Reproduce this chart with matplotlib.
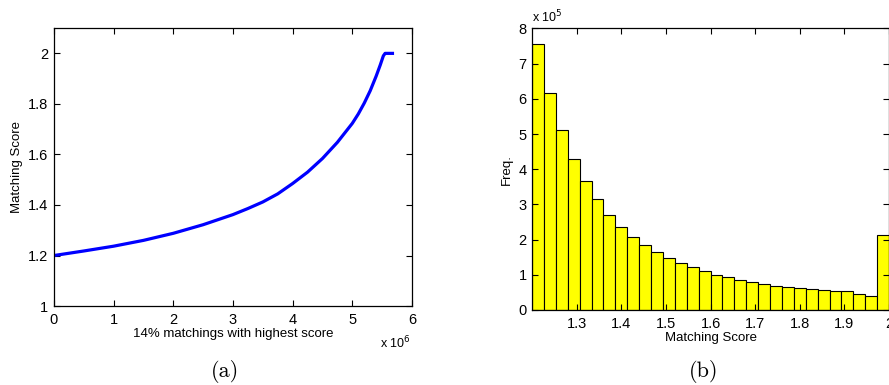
import numpy as np
import matplotlib
matplotlib.use("Agg")
import matplotlib.pyplot as plt

plt.rcParams['font.family'] = ['Liberation Sans', 'DejaVu Sans']

# (a) sorted matching scores of the top 14% matchings (x in units of 1e6)
curve_x = [0, 0.5, 1, 1.5, 2, 2.5, 3, 3.25, 3.5, 3.75, 4, 4.25, 4.5, 4.75, 5,
           5.1, 5.2, 5.3, 5.4, 5.47, 5.52, 5.55, 5.7]
curve_y = [1.200, 1.218, 1.237, 1.260, 1.288, 1.322, 1.362, 1.386, 1.412, 1.444,
           1.485, 1.530, 1.584, 1.648, 1.723, 1.760, 1.803, 1.852, 1.910, 1.955,
           1.990, 2.000, 2.000]

# (b) histogram of matching score, 30 bins between 1.2 and 2.0 (freq in units of 1e5)
bin_edges = np.linspace(1.2, 2.0, 31)
freq = [7.57, 6.16, 5.11, 4.29, 3.66, 3.14, 2.71, 2.37, 2.06, 1.84,
        1.64, 1.48, 1.33, 1.21, 1.11, 1.00, 0.94, 0.85, 0.80, 0.74,
        0.69, 0.65, 0.62, 0.59, 0.56, 0.53, 0.53, 0.45, 0.39, 2.12]

fig = plt.figure(figsize=(8.89, 3.85), dpi=100)


def matlab_style(ax):
    ax.tick_params(direction='in', top=True, right=True, length=4, width=0.8,
                   labelsize=10.5, pad=4)
    for s in ax.spines.values():
        s.set_linewidth(0.9)


# ---------------- (a)
ax1 = fig.add_axes([0.0607, 0.205, 0.4027, 0.722])
ax1.plot(curve_x, curve_y, color='#0000ff', lw=2.3, solid_capstyle='butt')
ax1.set_xlim(0, 6)
ax1.set_ylim(1, 2.1)
ax1.set_xticks([0, 1, 2, 3, 4, 5, 6])
ax1.set_yticks([1, 1.2, 1.4, 1.6, 1.8, 2])
ax1.set_yticklabels(['1', '1.2', '1.4', '1.6', '1.8', '2'])
matlab_style(ax1)
ax1.tick_params(axis='x', pad=5)
ax1.set_xlabel('14% matchings with highest score', fontsize=9.5, labelpad=1)
ax1.set_ylabel('Matching Score', fontsize=9.5, labelpad=4)
fig.text(0.428, 0.108, r'x 10$^{6}$', fontsize=9, ha='left', va='center')
fig.text(0.253, 0.035, '(a)', fontsize=16, family='cmr10', ha='center', va='center')

# ---------------- (b)
ax2 = fig.add_axes([0.5985, 0.195, 0.4015, 0.731])
ax2.bar(bin_edges[:-1], freq, width=np.diff(bin_edges), align='edge',
        color='#ffff00', edgecolor='black', linewidth=0.8)
ax2.set_xlim(1.2, 2.0)
ax2.set_ylim(0, 8)
ax2.set_xticks([1.3, 1.4, 1.5, 1.6, 1.7, 1.8, 1.9, 2.0])
ax2.set_xticklabels(['1.3', '1.4', '1.5', '1.6', '1.7', '1.8', '1.9', '2'])
ax2.set_yticks(range(9))
matlab_style(ax2)
ax2.tick_params(axis='x', pad=5)
ax2.set_xlabel('Matching Score', fontsize=9.5, labelpad=1)
ax2.set_ylabel('Freq.', fontsize=9.5, labelpad=4)
fig.text(0.598, 0.955, r'x 10$^{5}$', fontsize=9, ha='left', va='center')
fig.text(0.791, 0.035, '(b)', fontsize=16, family='cmr10', ha='center', va='center')

fig.savefig('out.png', dpi=100)
